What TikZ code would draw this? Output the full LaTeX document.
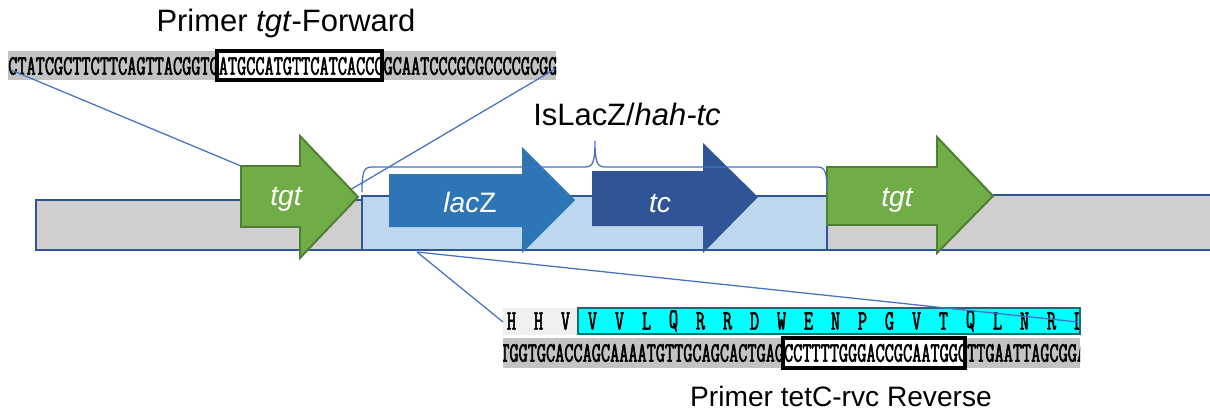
\documentclass[tikz,border=0pt]{standalone}
\usepackage{fontspec}
\setmainfont{Liberation Sans}
\newfontfamily\seqfont[FakeStretch=0.632,FakeBold=2]{Latin Modern Mono}

\definecolor{barBlue}{HTML}{2F5597}
\definecolor{barGray}{HTML}{D0CECE}
\definecolor{insertBlue}{HTML}{BDD7EE}
\definecolor{tgtGreen}{HTML}{70AD47}
\definecolor{tgtDark}{HTML}{507E32}
\definecolor{lacBlue}{HTML}{2E75B6}
\definecolor{tcBlue}{HTML}{2F5597}
\definecolor{leadBlue}{HTML}{4472C4}
\definecolor{seqGray}{HTML}{C3C3C3}
\definecolor{aaGray}{HTML}{F0F0F0}
\definecolor{aaCyan}{HTML}{00FFFF}
\definecolor{aaEdge}{HTML}{1F6A6A}

\begin{document}
\begin{tikzpicture}[x=0.025cm,y=-0.025cm,
		title/.style={font=\fontsize{22}{26}\selectfont,inner sep=0pt,anchor=base},
		subtitle/.style={font=\fontsize{20}{24}\selectfont,inner sep=0pt,anchor=base},
		geneLabel/.style={font=\fontsize{20}{24}\selectfont\itshape,text=white,inner sep=0pt,anchor=base},
		seqtxt/.style={font=\fontsize{20}{24}\seqfont,inner sep=0pt},
		primerBox/.style={draw=black,fill=white,line width=2.4pt},
		lead/.style={draw=leadBlue,line width=0.9pt},
		bar/.style={draw=barBlue,line width=2pt},
		tgtGene/.style={fill=tgtGreen,draw=tgtDark,line width=1.4pt,line join=miter},
		]
	\useasboundingbox (0,0) rectangle (1210,415);

	% Primer tgt-Forward
	% ----------------------
	\node[title] (fwdTitle) at (286,31) {Primer \textit{tgt}-Forward};

		% szekvencia
		\fill[seqGray] (8,51) rectangle (556,80);
		\draw[primerBox] (217,51) rectangle (382,80);
		\begin{scope}
			\clip (8,48) rectangle (556,83);
			\node[seqtxt,anchor=west] (fwdSeq) at (8,66) {CTATCGCTTCTTCAGTTACGGTGATGCCATGTTCATCACCCGCAATCCCGCGCCCCGCGG};
		\end{scope}

	% Primer tetC-rvc Reverse
	% ----------------------
	\node[subtitle] (revTitle) at (841,406) {Primer tetC-rvc Reverse};

		% aminosavak
		\fill[aaGray] (503,308) rectangle (578,335);
		\draw[fill=aaCyan,draw=aaEdge,line width=1pt] (578,308) rectangle (1080,334);
		\begin{scope}
			\clip (503,305) rectangle (1079,336);
			\foreach \aa [count=\i from 0] in {H,H,V,V,V,L,Q,R,R,D,W,E,N,P,G,V,T,Q,L,N,R,L}
				\node[seqtxt] (aa\i) at (511.5+27*\i,321) {\aa};
		\end{scope}

		% szekvencia
		\fill[seqGray] (503,338) rectangle (1080,368);
		\draw[primerBox] (783,338) rectangle (965,368);
		\begin{scope}
			\clip (503,335) rectangle (1080,371);
			\node[seqtxt,anchor=west] (revSeq) at (500,353) {TGGTGCACCAGCAAAATGTTGCAGCACTGAGCCTTTTGGGACCGCAATGGGTTGAATTAGCGGA};
		\end{scope}

	% Vezeto vonalak
	% ----------------------
	\coordinate (fwdL) at (11,70);
	\coordinate (fwdR) at (555,69);
	\coordinate (tgtCorner) at (241,166);
	\coordinate (tgtTip) at (350,190);
	\coordinate (insBot) at (417,252);
	\coordinate (revL) at (503,322);
	\coordinate (revR) at (1078,322);
	\draw[lead] (fwdL) -- (tgtCorner);
	\draw[lead] (fwdR) -- (tgtTip);
	\draw[lead] (insBot) -- (revL);
	\draw[lead] (insBot) -- (revR);

	% Kromoszoma
	% ----------------------
	\draw[bar,fill=barGray] (36,200) rectangle (362,250);
	\draw[bar,fill=barGray] (827,195) rectangle (1225,250);
	\draw[bar,fill=insertBlue] (362,196) rectangle (827,250);

	% Gének
	% ----------------------
	\draw[tgtGene] (241,166) -- (300,166) -- (300,136) -- (358,197) -- (300,258) -- (300,227) -- (241,227) -- cycle;
	\node[geneLabel] (tgtLeft) at (286,205) {tgt};

	\fill[lacBlue] (389,174) -- (522,174) -- (522,147) -- (575,200) -- (522,253) -- (522,227) -- (389,227) -- cycle;
	\node[geneLabel] (lacZ) at (470,212) {lac\textup{Z}};

	\fill[tcBlue] (592,171) -- (703,171) -- (703,143) -- (758,197) -- (703,253) -- (703,226) -- (592,226) -- cycle;
	\node[geneLabel] (tc) at (660,212) {tc};

	\draw[tgtGene] (827,167) -- (937,167) -- (937,137) -- (993,196) -- (937,253) -- (937,225) -- (827,225) -- cycle;
	\node[geneLabel] (tgtRight) at (897,206) {tgt};

	% Kapcsos zarojel az inszert felett
	\draw[leadBlue,line width=0.9pt] (362,192) .. controls (362,171) and (364,167) .. (372,167) -- (585,167)
		.. controls (593,167) and (595,162) .. (595,141) .. controls (595,162) and (597,167) .. (605,167)
		-- (817,167) .. controls (825,167) and (827,171) .. (827,192);
	\node[title] (insTitle) at (627,125) {IsLacZ/\textit{hah-tc}};

\end{tikzpicture}
\end{document}
